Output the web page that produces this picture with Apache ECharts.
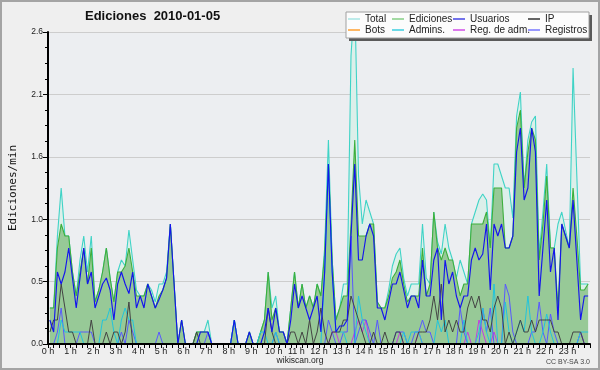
<!DOCTYPE html>
<html><head><meta charset="utf-8">
<script src="https://cdn.jsdelivr.net/npm/echarts/dist/echarts.min.js"></script>
<style>html,body{margin:0;padding:0;background:#efefef;}#c{width:600px;height:370px;}</style>
</head><body><div id="c"></div>
<script>
// 10-minute bins, edits per minute, 2010-01-05
const binHours = 1 / 6;
const total = [
0.3,0.3,0.9,1.3,0.9,0.9, 0.6,0.4,0.7,0.9,0.6,0.9, 0.35,0.45,0.6,0.8,0.55,0.35, 0.6,0.7,0.65,0.95,0.7,0.45,
0.4,0.4,0.5,0.45,0.35,0.5, 0.5,0.6,1.0,0.5,0,0.2, 0,0,0,0.1,0.1,0.1, 0.2,0,0,0,0,0,
0,0.2,0,0,0,0.1, 0,0,0.1,0.2,0.6,0.3, 0.4,0.1,0.1,0,0.3,0.6, 0.3,0.5,0.3,0.4,0.3,0.5,
0.4,0.8,1.7,0.7,0.2,0.3, 0.5,0.5,2.4,2.9,1.4,1.0, 1.2,1.1,1.0,0.35,0.3,0.3, 0.45,0.65,0.75,0.8,0.55,0.4,
0.5,0.5,0.5,1.0,0.55,0.5, 1.1,0.85,0.75,1.0,0.8,0.7, 0.55,0.7,0.6,0.5,1.0,1.1, 1.2,1.25,1.2,0.8,1.5,1.5,
1.4,1.3,1.3,1.05,1.9,2.1, 1.3,1.7,1.85,1.9,0.75,1.1, 1.5,0.8,0.8,1.0,1.1,0.95, 0.8,2.3,1.4,0.5,0.5,0.5];
const ediciones = [
0.3,0.3,0.8,1.0,0.9,0.9, 0.6,0.4,0.6,0.8,0.5,0.8, 0.35,0.45,0.6,0.8,0.55,0.35, 0.6,0.6,0.65,0.8,0.6,0.4,
0.4,0.4,0.5,0.4,0.3,0.4, 0.45,0.55,1.0,0.5,0,0.2, 0,0,0,0.1,0.1,0.1, 0.1,0,0,0,0,0,
0,0.2,0,0,0,0.1, 0,0,0.1,0.2,0.6,0.2, 0.3,0.1,0.1,0,0.3,0.6, 0.3,0.5,0.3,0.4,0.3,0.5,
0.4,0.75,1.5,0.7,0.2,0.3, 0.4,0.4,1.0,1.7,0.9,0.9, 0.9,1.0,1.0,0.35,0.3,0.3, 0.4,0.55,0.6,0.7,0.5,0.35,
0.4,0.4,0.4,0.8,0.4,0.5, 1.1,0.8,0.7,0.8,0.7,0.7, 0.55,0.4,0.5,0.5,1.0,1.0, 1.0,1.0,1.1,0.8,1.3,1.3,
1.3,0.8,0.8,0.9,1.8,1.95, 1.3,1.6,1.8,1.7,0.7,1.0, 1.4,0.8,0.8,0.3,1.0,0.9, 0.8,1.3,0.9,0.45,0.45,0.5];
const usuarios = [
0.2,0.1,0.6,0.5,0.6,0.8, 0.55,0.3,0.55,0.8,0.5,0.6, 0.3,0.4,0.5,0.55,0.45,0.2, 0.5,0.6,0.5,0.42,0.6,0.3,
0.4,0.3,0.5,0.4,0.3,0.37, 0.45,0.55,1.0,0.5,0,0.2, 0,0,0,0,0.1,0.1, 0.1,0,0,0,0,0,
0,0.2,0,0,0,0.1, 0,0,0,0.1,0.3,0.1, 0.3,0.1,0.1,0,0.2,0.5, 0.3,0.4,0.3,0.2,0.3,0.4,
0.1,0.6,1.5,0.6,0.1,0.15, 0.15,0.2,0.9,1.5,0.7,0.7, 0.9,1.0,0.9,0.3,0.3,0.2, 0.35,0.5,0.5,0.6,0.45,0.3,
0.4,0.4,0.3,0.7,0.4,0.4, 0.7,0.8,0.2,0.7,0.5,0.6, 0.4,0.3,0.4,0.4,0.7,0.8, 0.7,0.75,1.0,0.45,1.0,0.9,
1.0,0.8,0.8,0.9,1.6,1.8, 1.2,1.3,1.8,1.6,0.4,0.8, 1.2,0.6,0.8,0.2,1.0,0.9, 0.8,1.2,0.7,0.2,0.4,0.4];
const ip = [
0.1,0.2,0.2,0.5,0.3,0.1, 0.1,0,0,0,0,0.2, 0,0,0,0.1,0,0.1, 0.1,0,0.1,0.35,0,0,
0,0,0,0,0,0, 0,0,0,0,0,0, 0,0,0,0.1,0,0, 0,0,0,0,0,0,
0,0,0,0,0,0, 0,0,0,0,0.3,0.1, 0,0,0,0,0.1,0.1, 0,0.1,0,0.2,0,0.1,
0.3,0.1,0,0.1,0.1,0.1, 0.2,0.2,0.4,0.3,0.2,0.1, 0,0,0.1,0,0,0.1, 0,0,0.1,0.1,0,0,
0,0,0.1,0.1,0.1,0.2, 0.4,0.2,0.5,0.1,0.2,0.1, 0.2,0.1,0.1,0.3,0.4,0.3, 0.4,0.2,0.2,0.1,0.3,0.4,
0.3,0,0.1,0,0.1,0.2, 0.1,0.1,0.2,0.1,0.2,0.2, 0.2,0.2,0.1,0.1,0,0, 0,0.1,0.1,0.1,0,0];
const bots = [
0,0,0,0,0,0, 0,0,0,0,0,0, 0,0,0,0,0,0, 0,0,0,0,0,0,
0,0,0,0,0,0, 0,0,0,0,0,0, 0,0,0,0,0,0, 0,0,0,0,0,0,
0,0,0,0,0,0, 0,0,0,0,0,0, 0,0,0,0,0,0, 0,0,0,0,0,0,
0,0,0,0,0,0, 0,0,0,0,0,0, 0,0,0,0,0,0, 0,0,0,0,0,0,
0,0,0,0,0,0, 0,0,0,0,0,0, 0,0,0,0,0,0, 0,0,0,0,0,0,
0,0,0,0,0,0, 0,0,0,0,0,0, 0,0,0,0,0,0, 0,0,0,0,0,0];
const admins = [
0,0,0,0.2,0.1,0.1, 0.1,0.1,0.1,0,0,0, 0,0,0.2,0.2,0.3,0.1, 0,0.2,0.3,0.2,0.2,0,
0,0,0,0,0,0, 0,0,0,0,0,0, 0,0,0,0,0,0, 0,0,0,0,0,0,
0,0.2,0,0,0,0, 0,0,0.1,0.1,0,0, 0.1,0,0,0,0,0, 0,0,0,0,0,0,
0,0.6,1.5,0.6,0.1,0.1, 0.1,0,0,0,0.4,0.2, 0.1,0,0,0,0,0, 0,0,0,0,0.1,0,
0.1,0.1,0.1,0,0,0, 0,0.2,0.1,0.2,0,0, 0,0,0.2,0,0,0, 0.1,0.3,0.1,0,0.5,0,
0,0.35,0.1,0,0.1,0.2, 0.1,0.4,0.1,0,0,0.1, 0.25,0.1,0,0,0,0, 0,0,0,0.1,0.1,0.1];
const regAdm = [
0,0,0,0,0,0, 0,0,0,0,0,0, 0,0,0,0,0,0, 0,0,0,0,0,0,
0,0,0,0,0,0, 0,0,0,0,0,0, 0,0,0,0,0,0, 0,0,0,0,0,0,
0,0,0,0,0,0, 0,0,0,0,0,0, 0,0,0,0,0,0, 0,0,0,0,0,0,
0,0,0,0.1,0.1,0, 0,0,0,0.1,0.2,0.1, 0.2,0,0,0,0,0, 0,0,0,0.1,0,0,
0,0,0.1,0,0,0, 0,0,0,0,0,0, 0,0,0,0.1,0,0, 0.2,0.1,0,0,0.1,0,
0,0,0,0,0,0, 0,0,0,0,0,0, 0,0,0,0,0,0, 0,0,0,0.1,0,0];
const registros = [
0,0,0.1,0.3,0,0, 0,0,0.1,0.1,0.1,0.1, 0,0,0,0,0,0, 0,0.1,0,0.2,0.1,0,
0,0,0,0,0,0.1, 0,0,0,0,0,0, 0,0,0,0,0,0, 0.1,0,0,0,0,0,
0,0,0,0,0,0, 0,0,0,0,0,0, 0.1,0,0,0,0,0, 0,0,0,0,0,0,
0,0,0.2,0.1,0,0, 0.1,0.1,0.9,0,0.1,0.2, 0.2,0.1,0,0.2,0,0, 0,0,0.1,0.1,0.1,0,
0,0.1,0.1,0.2,0.1,0.1, 0,0,0,0,0,0, 0,0.3,0.1,0,0,0, 0,0.3,0.1,0.3,0,0,
0,0.5,0.4,0.1,0,0, 0,0,0.1,0.1,0.35,0.1, 0,0.25,0.1,0,0,0, 0,0,0,0.1,0,0];

const toPts = arr => arr.map((v, i) => [(i + 0.5) * binHours, v]);
const FONT = 'Liberation Sans';

function lineSeries(name, data, color, width, z, area) {
  const s = {
    name, type: 'line', data: toPts(data), symbol: 'none', smooth: false,
    z, silent: true, animation: false, clip: true,
    itemStyle: { color }, lineStyle: { color, width },
    emphasis: { disabled: true }
  };
  if (area) s.areaStyle = { color: area, opacity: 1 };
  return s;
}

const series = [
  lineSeries('Total', total, '#3fd3c6', 1.1, 2, '#dcefea'),
  lineSeries('Ediciones', ediciones, '#3caf3c', 1.1, 3, '#97c997'),
  lineSeries('Reg. de adm.', regAdm, '#c43ce0', 1, 4),
  lineSeries('Registros', registros, '#5858ff', 1, 4),
  lineSeries('Admins.', admins, '#22c4dc', 1, 4),
  lineSeries('IP', ip, '#444444', 1, 4),
  lineSeries('Bots', bots, '#ffa030', 1, 4),
  lineSeries('Usuarios', usuarios, '#1414ee', 1.15, 5)
];

const legendColors = {
  'Total': '#a8e6e4', 'Ediciones': '#86cf86', 'Usuarios': '#4646e6', 'IP': '#333333',
  'Bots': '#ffa030', 'Admins.': '#3ccfe0', 'Reg. de adm.': '#d24ee8', 'Registros': '#7777ff'
};
const legendCols = [
  { left: 348, names: ['Total', 'Bots'] },
  { left: 392, names: ['Ediciones', 'Admins.'] },
  { left: 453, names: ['Usuarios', 'Reg. de adm.'] },
  { left: 528, names: ['IP', 'Registros'] }
];
const legends = legendCols.map(c => ({
  left: c.left, top: 13.5, orient: 'vertical', padding: 0, itemGap: 0,
  itemWidth: 12, itemHeight: 1.5, icon: 'rect', selectedMode: false, z: 20,
  textStyle: { fontFamily: FONT, fontSize: 10, color: '#222', lineHeight: 11 },
  data: c.names.map(n => ({ name: n, icon: 'rect', itemStyle: { color: legendColors[n], borderWidth: 0 } }))
}));

const chart = echarts.init(document.getElementById('c'), null, { renderer: 'canvas' });
chart.setOption({
  animation: false,
  backgroundColor: '#efefef',
  title: [
    { text: 'Ediciones  2010-01-05', left: 85, top: 10, padding: 0,
      textStyle: { fontFamily: FONT, fontSize: 13, fontWeight: 'bold', color: '#111', lineHeight: 13 } },
    { text: 'wikiscan.org', left: 'center', top: 356, padding: 0,
      textStyle: { fontFamily: FONT, fontSize: 8.5, fontWeight: 'normal', color: '#222', lineHeight: 10 } },
    { text: 'CC BY-SA 3.0', right: 10, top: 358, padding: 0,
      textStyle: { fontFamily: FONT, fontSize: 7, fontWeight: 'normal', color: '#444', lineHeight: 8 } }
  ],
  legend: legends,
  grid: { left: 45, right: 10, top: 32, bottom: 26, show: true, backgroundColor: '#eceef1', borderWidth: 0 },
  xAxis: {
    type: 'value', min: 0, max: 24, interval: 1, z: 6,
    axisLine: { show: true, onZero: false, lineStyle: { color: '#000', width: 2 } },
    axisTick: { show: true, length: 4, lineStyle: { color: '#000', width: 1 } },
    minorTick: { show: true, splitNumber: 4, length: 4, lineStyle: { color: '#000', width: 1 } },
    splitLine: { show: false },
    axisLabel: { formatter: v => v + ' h', showMaxLabel: false, fontFamily: FONT, fontSize: 9, color: '#222', margin: 3 }
  },
  yAxis: {
    type: 'value', min: 0, max: 2.6, interval: 0.52,
    name: 'Ediciones/min', nameLocation: 'middle', nameGap: 29, nameRotate: 90,
    nameTextStyle: { fontFamily: 'DejaVu Sans Mono', fontSize: 11, color: '#111' },
    axisLine: { show: true, lineStyle: { color: '#000', width: 2 } },
    axisTick: { show: true, length: 5, lineStyle: { color: '#000', width: 1 } },
    minorTick: { show: true, splitNumber: 4, length: 3, lineStyle: { color: '#000', width: 1 } },
    splitLine: { show: true, lineStyle: { color: '#cdcdcd', width: 1 } },
    axisLabel: { formatter: v => v.toFixed(1), fontFamily: FONT, fontSize: 8.5, color: '#222', margin: 5 }
  },
  graphic: [
    { type: 'rect', z: 18, silent: true, shape: { x: 349, y: 15, width: 243, height: 26 }, style: { fill: '#5a5a5a' } },
    { type: 'rect', z: 19, silent: true, shape: { x: 346, y: 12, width: 243, height: 26 }, style: { fill: '#fcfcfc', stroke: '#a0a0a0', lineWidth: 1 } },
    { type: 'rect', z: 30, silent: true, shape: { x: 1, y: 1, width: 598, height: 368 }, style: { fill: 'none', stroke: '#a4a4a4', lineWidth: 2 } }
  ],
  series
});
</script></body></html>
